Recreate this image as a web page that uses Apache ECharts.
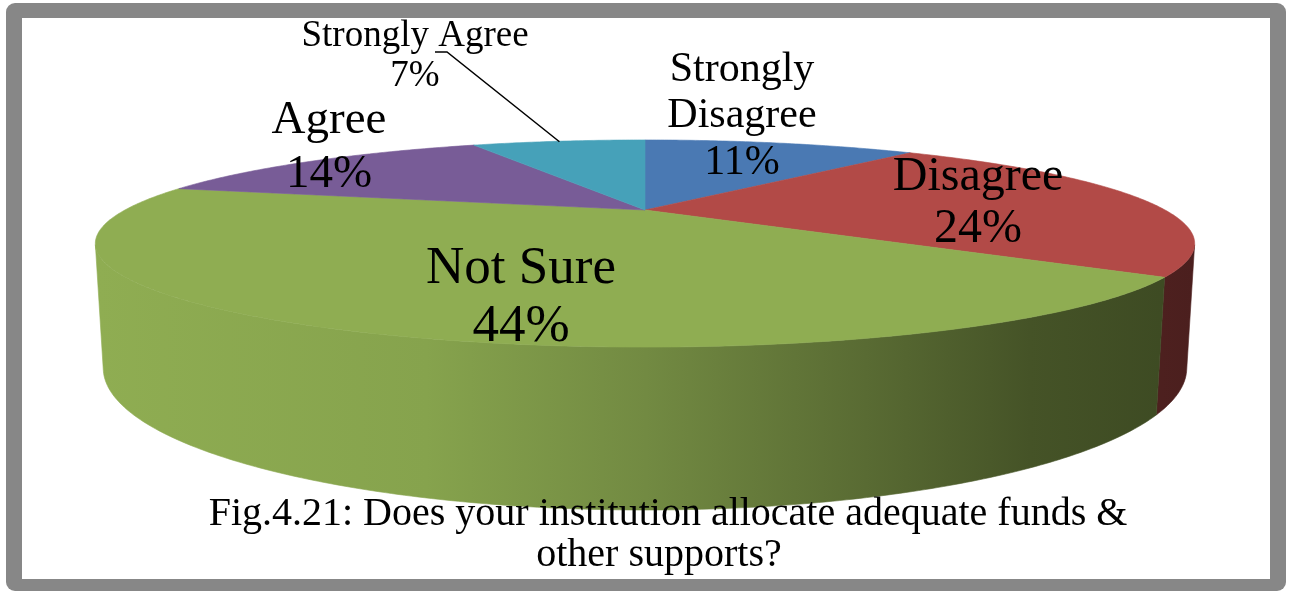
<!DOCTYPE html>
<html>
<head>
<meta charset="utf-8">
<script src="https://cdn.jsdelivr.net/npm/echarts@6/dist/echarts.min.js"></script>
<style>
  html, body { margin: 0; padding: 0; background: #ffffff; }
  #chart { width: 1292px; height: 592px; }
</style>
</head>
<body>
<div id="chart"></div>
<script>
// Survey responses: share of respondents per answer (percent)
const categories = ['Strongly Disagree', 'Disagree', 'Not Sure', 'Agree', 'Strongly Agree'];
const shares = [11, 24, 44, 14, 7];
const sliceColors = ['#4a79b3', '#b24a47', '#8fad52', '#785c97', '#46a1b9'];
const captionLines = [
  'Fig.4.21: Does your institution allocate adequate funds &',
  'other supports?'
];

// How each category name is broken into lines inside its label
const labelBreaks = [['Strongly', 'Disagree'], ['Disagree'], ['Not Sure'], ['Agree'], ['Strongly Agree']];

// Label placement (block centre in px), font size and line spacing
const labelLayout = [
  { x: 742, y: 116, size: 42, lead: 46.5 },
  { x: 978, y: 203, size: 48, lead: 52 },
  { x: 521, y: 298, size: 53, lead: 58 },
  { x: 329, y: 148, size: 47, lead: 54 },
  { x: 415, y: 56,  size: 37, lead: 40, leader: [[435, 52], [447, 52]] }
];

// Perspective camera for the tilted disc
const view = {
  cx: 645, cy: 210,          // screen position of the disc centre
  focal: 1581,               // focal length in px (radius = 1 world unit)
  dist: 3.04,                // camera distance, in radii
  tilt: 10.27 * Math.PI / 180,
  depth: 0.223               // disc thickness, in radii
};

const SIN_T = Math.sin(view.tilt), COS_T = Math.cos(view.tilt);

// theta: clockwise from the far side (12 o'clock); r: radius fraction; z: height (0 = top face)
function project(theta, r, z) {
  const x = r * Math.sin(theta);
  const y = -r * Math.cos(theta);
  const v = -y * SIN_T + z * COS_T;
  const w = view.dist - (y * COS_T + z * SIN_T);
  return [view.cx + view.focal * x / w, view.cy - view.focal * v / w];
}

// Part of the rim that faces the camera
const rimK = 1 / (view.dist * COS_T);
const rimFrom = Math.acos(-rimK);
const rimTo = 2 * Math.PI - rimFrom;

function shade(hex, f) {
  const n = parseInt(hex.slice(1), 16);
  const r = Math.round(((n >> 16) & 255) * f);
  const g = Math.round(((n >> 8) & 255) * f);
  const b = Math.round((n & 255) * f);
  return 'rgb(' + r + ',' + g + ',' + b + ')';
}

function wallFill(hex) {
  const stops = [[0, 1.0], [0.3, 0.94], [0.5, 0.8], [0.7, 0.62], [0.85, 0.48], [1, 0.42]];
  return {
    type: 'linear', global: true, x: 97, y: 0, x2: 1195, y2: 0,
    colorStops: stops.map(s => ({ offset: s[0], color: shade(hex, s[1]) }))
  };
}

function arcPoints(a0, a1, r, z) {
  const n = Math.max(2, Math.ceil((a1 - a0) / 0.01));
  const pts = [];
  for (let i = 0; i <= n; i++) pts.push(project(a0 + (a1 - a0) * i / n, r, z));
  return pts;
}

const total = shares.reduce((a, b) => a + b, 0);
let running = 0;
const sliceData = shares.map((v, i) => {
  const item = { name: categories[i], value: [running, v, i] };
  running += v;
  return item;
});

function renderSlice(params, api) {
  const start = api.value(0), val = api.value(1), idx = api.value(2);
  const a0 = start / total * 2 * Math.PI;
  const a1 = (start + val) / total * 2 * Math.PI;
  const color = sliceColors[idx];
  const children = [];

  // outer wall (only the camera-facing stretch)
  const w0 = Math.max(a0, rimFrom), w1 = Math.min(a1, rimTo);
  if (w1 > w0) {
    const top = arcPoints(w0, w1, 1, 0);
    const bottom = arcPoints(w0, w1, 1, -view.depth).reverse();
    children.push({
      type: 'polygon', z2: 1,
      shape: { points: top.concat(bottom) },
      style: { fill: wallFill(color), stroke: wallFill(color), lineWidth: 0.6 }
    });
  }

  // top face
  const face = [project(0, 0, 0)].concat(arcPoints(a0, a1, 1, 0));
  children.push({
    type: 'polygon', z2: 5,
    shape: { points: face },
    style: { fill: color, stroke: color, lineWidth: 0.6 }
  });

  // label
  const lay = labelLayout[idx];
  const text = labelBreaks[idx].concat([val + '%']).join('\n');
  children.push({
    type: 'text', z2: 20,
    style: {
      text: text, x: lay.x, y: lay.y,
      align: 'center', verticalAlign: 'middle',
      font: lay.size + 'px "Liberation Serif", "Times New Roman", serif',
      lineHeight: lay.lead, fill: '#000000'
    }
  });

  if (lay.leader) {
    const tip = project((a0 + a1) / 2, 0.99, 0);
    children.push({
      type: 'polyline', z2: 20,
      shape: { points: lay.leader.concat([tip]) },
      style: { stroke: '#000000', lineWidth: 1.5, fill: null }
    });
  }

  return { type: 'group', children: children };
}

const chart = echarts.init(document.getElementById('chart'), null, { renderer: 'canvas' });

const captionFont = '40px "Liberation Serif", "Times New Roman", serif';

chart.setOption({
  backgroundColor: '#ffffff',
  animation: false,
  graphic: [
    { type: 'rect', z: 0, shape: { x: 6, y: 3, width: 1280, height: 588, r: 9 }, style: { fill: '#878787' } },
    { type: 'rect', z: 0, shape: { x: 22, y: 18, width: 1248, height: 561 }, style: { fill: '#ffffff' } },
    {
      type: 'text', z: 100,
      style: {
        text: captionLines[0], x: 668, y: 514, align: 'center', verticalAlign: 'middle',
        font: captionFont, fill: '#000000'
      }
    },
    {
      type: 'text', z: 100,
      style: {
        text: captionLines[1], x: 659, y: 555, align: 'center', verticalAlign: 'middle',
        font: captionFont, fill: '#000000'
      }
    }
  ],
  series: [{
    type: 'custom',
    coordinateSystem: 'none',
    z: 2,
    renderItem: renderSlice,
    data: sliceData
  }]
});
</script>
</body>
</html>
